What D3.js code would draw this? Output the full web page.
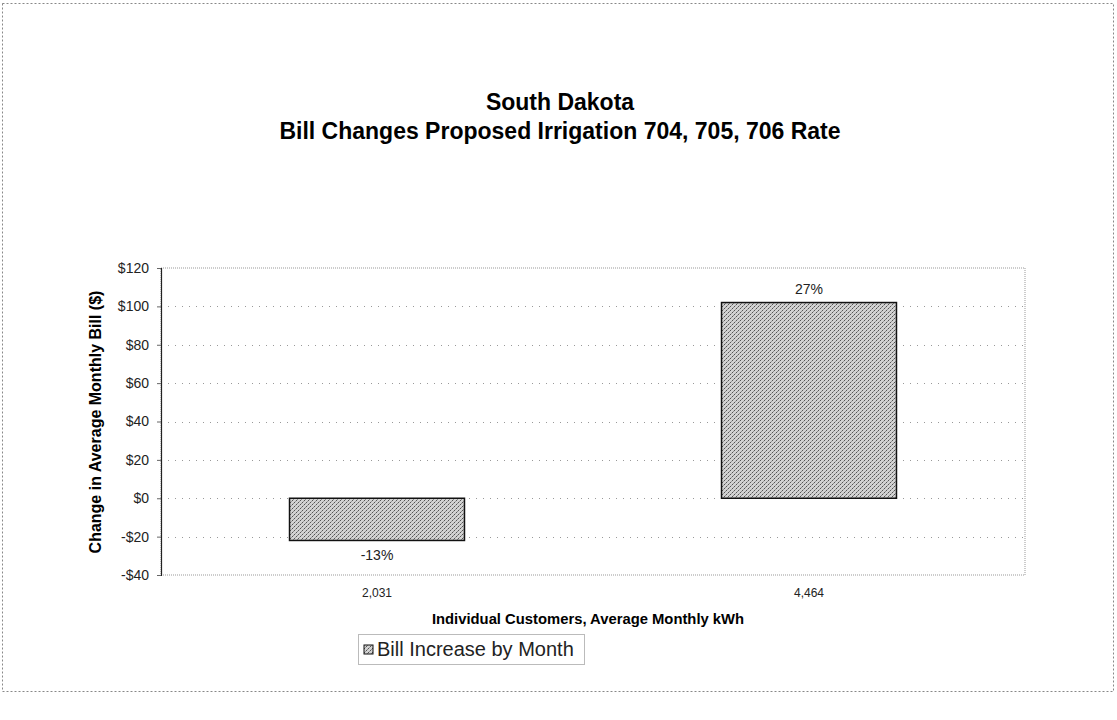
<!DOCTYPE html>
<html><head><meta charset="utf-8">
<script src="https://cdn.jsdelivr.net/npm/d3@7"></script>
<style>body{margin:0;background:#fff;} svg{display:block;}</style>
</head><body>
<script>
const categories = ["2,031", "4,464"];
const values = [-22, 102];
const pctLabels = ["-13%", "27%"];
const yTicks = [-40, -20, 0, 20, 40, 60, 80, 100, 120];
const seriesName = "Bill Increase by Month";
const titleLines = ["South Dakota", "Bill Changes Proposed Irrigation 704, 705, 706 Rate"];
const xTitle = "Individual Customers, Average Monthly kWh";
const yTitle = "Change in Average Monthly Bill  ($)";

const W = 1117, H = 720;
const svg = d3.select("body").append("svg").attr("width", W).attr("height", H);
const font = "'Liberation Sans', Arial, sans-serif";

// texture pattern
const defs = svg.append("defs");
const pat = defs.append("pattern").attr("id", "tex").attr("patternUnits", "userSpaceOnUse")
  .attr("width", 4).attr("height", 4);
pat.append("rect").attr("width", 4).attr("height", 4).attr("fill", "#d2d2d2");
pat.append("rect").attr("x", 0).attr("y", 0).attr("width", 1).attr("height", 1).attr("fill", "#555");
pat.append("rect").attr("x", 2).attr("y", 2).attr("width", 1).attr("height", 1).attr("fill", "#555");
pat.append("rect").attr("x", 1).attr("y", 3).attr("width", 1).attr("height", 1).attr("fill", "#8a8a8a");
pat.append("rect").attr("x", 3).attr("y", 1).attr("width", 1).attr("height", 1).attr("fill", "#9a9a9a");

// outer frame
svg.append("rect").attr("x", 2.5).attr("y", 3.5).attr("width", 1111).attr("height", 688)
  .attr("fill", "none").attr("stroke", "#888").attr("stroke-width", 1).attr("stroke-dasharray", "2,2");

// title
svg.append("text").attr("x", 560).attr("y", 110).attr("text-anchor", "middle")
  .attr("font-family", font).attr("font-weight", "bold").attr("font-size", 23).text(titleLines[0]);
svg.append("text").attr("x", 560).attr("y", 139).attr("text-anchor", "middle")
  .attr("font-family", font).attr("font-weight", "bold").attr("font-size", 23).text(titleLines[1]);

const plot = {left: 161, right: 1025, top: 268, bottom: 575};
const y = d3.scaleLinear().domain([-40, 120]).range([plot.bottom, plot.top]);
const x = d3.scaleBand().domain(categories).range([plot.left, plot.right])
  .paddingInner(0.595).paddingOuter(0.2975);

// plot border (dotted)
svg.append("rect").attr("x", plot.left).attr("y", plot.top)
  .attr("width", plot.right - plot.left).attr("height", plot.bottom - plot.top)
  .attr("fill", "none").attr("stroke", "#999").attr("stroke-dasharray", "1,1");

// gridlines
svg.append("g").selectAll("line").data(yTicks.filter(t => t > -40 && t < 120)).join("line")
  .attr("x1", plot.left).attr("x2", plot.right)
  .attr("y1", d => Math.round(y(d)) + 0.5).attr("y2", d => Math.round(y(d)) + 0.5)
  .attr("stroke", "#999").attr("stroke-dasharray", "1,6");

// y axis
const yAxis = d3.axisLeft(y).tickValues(yTicks).tickSize(4)
  .tickFormat(d => (d < 0 ? "-$" : "$") + Math.abs(d));
const ga = svg.append("g").attr("transform", `translate(${plot.left},0)`).call(yAxis);
ga.select(".domain").attr("stroke", "#222").attr("stroke-width", 1.2);
ga.selectAll(".tick line").attr("stroke", "#666");
ga.selectAll(".tick text").attr("font-family", font).attr("font-size", 14).attr("fill", "#222").attr("x", -12);

// bars
svg.append("g").selectAll("rect").data(values).join("rect")
  .attr("x", (d, i) => x(categories[i]))
  .attr("width", x.bandwidth())
  .attr("y", d => y(Math.max(0, d)))
  .attr("height", d => Math.abs(y(d) - y(0)))
  .attr("fill", "url(#tex)").attr("stroke", "#111").attr("stroke-width", 1.5);

// bar labels
svg.append("g").selectAll("text").data(values).join("text")
  .attr("x", (d, i) => x(categories[i]) + x.bandwidth() / 2)
  .attr("y", d => d >= 0 ? y(d) - 9 : y(d) + 20)
  .attr("text-anchor", "middle").attr("font-family", font).attr("font-size", 14).attr("fill", "#222")
  .text((d, i) => pctLabels[i]);

// x axis labels
svg.append("g").selectAll("text").data(categories).join("text")
  .attr("x", d => x(d) + x.bandwidth() / 2).attr("y", 597)
  .attr("text-anchor", "middle").attr("font-family", font).attr("font-size", 12).attr("fill", "#222")
  .text(d => d);

// x title
svg.append("text").attr("x", 588).attr("y", 624).attr("text-anchor", "middle")
  .attr("font-family", font).attr("font-weight", "bold").attr("font-size", 14.8).text(xTitle);

// y title
svg.append("text").attr("transform", "translate(101,422) rotate(-90)").attr("text-anchor", "middle")
  .attr("font-family", font).attr("font-weight", "bold").attr("font-size", 16).text(yTitle);

// legend
const lg = svg.append("g").attr("transform", "translate(358,634)");
lg.append("rect").attr("x", 0.5).attr("y", 0.5).attr("width", 226).attr("height", 30)
  .attr("fill", "none").attr("stroke", "#777").attr("stroke-dasharray", "1,1");
lg.append("rect").attr("x", 6).attr("y", 11).attr("width", 9).attr("height", 9)
  .attr("fill", "url(#tex)").attr("stroke", "#111");
lg.append("text").attr("x", 19).attr("y", 22).attr("font-family", font).attr("font-size", 20)
  .attr("fill", "#222").text(seriesName);
</script>
</body></html>
